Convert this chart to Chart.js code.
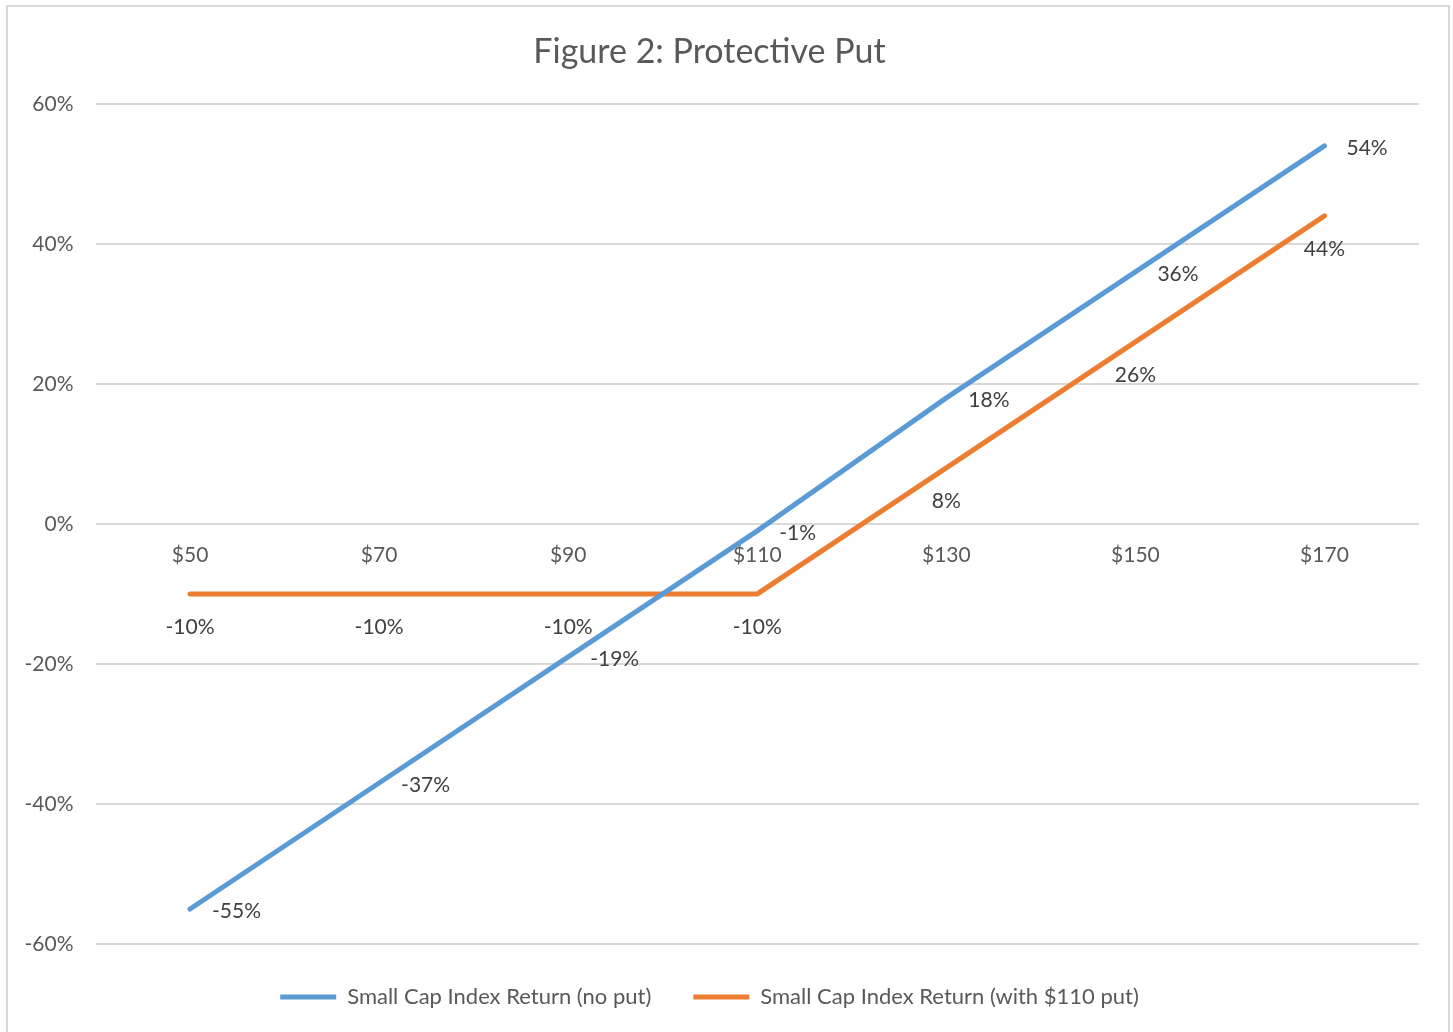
<!DOCTYPE html>
<html>
<head>
<meta charset="utf-8">
<script src="https://cdn.jsdelivr.net/npm/chart.js@4.4.1/dist/chart.umd.min.js"></script>
<style>
    html, body { margin: 0; padding: 0; background: #ffffff; }
    #frame { position: absolute; left: 6px; top: 5px; width: 1440px; height: 1100px; border: 2px solid #d9d9d9; }
    #wrap { position: absolute; left: 0; top: 0; width: 1453px; height: 1032px; }
</style>
</head>
<body>
<div id="frame"></div>
<div id="wrap"><canvas id="putChart"></canvas></div>
<script>
var categories = ['$50', '$70', '$90', '$110', '$130', '$150', '$170'];
var noPutReturns = [-0.55, -0.37, -0.19, -0.01, 0.18, 0.36, 0.54];
var withPutReturns = [-0.10, -0.10, -0.10, -0.10, 0.08, 0.26, 0.44];
var seriesNames = ['Small Cap Index Return (no put)', 'Small Cap Index Return (with $110 put)'];

var fontName = 'Lato';

// data labels, like excel does: blue to the right, orange below
var pointLabels = {
    id: 'pointLabels',
    afterDatasetsDraw: function (chart) {
        var ctx = chart.ctx;
        ctx.save();
        ctx.font = '21px ' + fontName;
        ctx.fillStyle = '#404040';
        ctx.textBaseline = 'middle';
        chart.data.datasets.forEach(function (ds, i) {
            var meta = chart.getDatasetMeta(i);
            meta.data.forEach(function (pt, j) {
                var text = Math.round(ds.data[j] * 100) + '%';
                if (i === 0) {
                    ctx.textAlign = 'left';
                    ctx.fillText(text, pt.x + 22, pt.y + 2);
                } else {
                    ctx.textAlign = 'center';
                    ctx.fillText(text, pt.x, pt.y + 33);
                }
            });
        });
        ctx.restore();
    }
};

new Chart(document.getElementById('putChart').getContext('2d'), {
    type: 'line',
    data: {
        labels: categories,
        datasets: [{
            label: seriesNames[0],
            data: noPutReturns,
            borderColor: '#5B9BD5',
            backgroundColor: '#5B9BD5',
            borderWidth: 5,
            borderCapStyle: 'round',
            pointRadius: 0,
            tension: 0
        }, {
            label: seriesNames[1],
            data: withPutReturns,
            borderColor: '#ED7D31',
            backgroundColor: '#ED7D31',
            borderWidth: 5,
            borderCapStyle: 'round',
            pointRadius: 0,
            tension: 0
        }]
    },
    options: {
        responsive: true,
        maintainAspectRatio: false,
        animation: false,
        layout: {
            padding: { left: 0, right: 34, top: 0, bottom: 14 }
        },
        scales: {
            x: {
                position: { y: 0 },
                offset: true,
                grid: { display: false },
                border: { display: false },
                ticks: {
                    color: '#595959',
                    font: { family: fontName, size: 21 },
                    padding: 11
                }
            },
            y: {
                min: -0.6,
                max: 0.6,
                afterFit: function (scale) { scale.width = 95.5; },
                grid: { color: '#d9d9d9', lineWidth: 2, drawTicks: false },
                border: { display: false },
                ticks: {
                    stepSize: 0.2,
                    color: '#595959',
                    padding: 22,
                    font: { family: fontName, size: 21 },
                    callback: function (v) { return Math.round(v * 100) + '%'; }
                }
            }
        },
        plugins: {
            title: {
                display: true,
                text: 'Figure 2: Protective Put',
                color: '#595959',
                font: { family: fontName, size: 34, weight: 'normal' },
                padding: { top: 32, bottom: 31 }
            },
            legend: {
                position: 'bottom',
                labels: {
                    usePointStyle: true,
                    pointStyle: 'line',
                    pointStyleWidth: 56,
                    color: '#595959',
                    padding: 42,
                    font: { family: fontName, size: 22 }
                }
            },
            tooltip: { enabled: false }
        }
    },
    plugins: [pointLabels]
});
</script>
</body>
</html>
